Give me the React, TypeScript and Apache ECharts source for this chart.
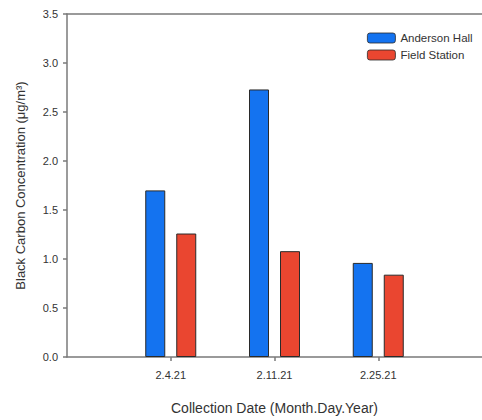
import React, { useEffect, useRef } from "react";
import * as echarts from "echarts";

const categories = ["2.4.21", "2.11.21", "2.25.21"];
const andersonHall = [1.7, 2.73, 0.96];
const fieldStation = [1.26, 1.08, 0.84];
const yTicks = [0, 0.5, 1.0, 1.5, 2.0, 2.5, 3.0, 3.5];

const FONT = "'Liberation Sans', Arial, sans-serif";

export default function App() {
  const ref = useRef<HTMLDivElement>(null);
  useEffect(() => {
    if (!ref.current) return;
    const chart = echarts.init(ref.current, null, { renderer: "svg" });
    const positions = categories.map((_, i) => i + 1);
    const axisLineStyle = { color: "#7a7a7a", width: 1.5 };
    chart.setOption({
      animation: false,
      backgroundColor: "#ffffff",
      textStyle: { fontFamily: FONT },
      grid: { left: 67, top: 14, bottom: 63, right: -7, containLabel: false },
      legend: {
        orient: "vertical",
        left: 367,
        top: 32,
        padding: 0,
        itemWidth: 28,
        itemHeight: 10,
        itemGap: 5,
        itemStyle: { borderWidth: 0.8 },
        textStyle: { fontSize: 11.5, color: "#333", fontFamily: FONT },
        data: ["Anderson Hall", "Field Station"],
      },
      xAxis: [
        {
          type: "value",
          min: 0,
          max: 4,
          interval: 1,
          name: "Collection Date (Month.Day.Year)",
          nameLocation: "middle",
          nameGap: 44,
          nameTextStyle: { fontSize: 14, color: "#333", fontFamily: FONT },
          axisLine: { show: true, onZero: false, lineStyle: axisLineStyle },
          axisTick: { show: true, length: 4, customValues: positions, lineStyle: axisLineStyle },
          axisLabel: {
            customValues: positions,
            formatter: (v: number) => categories[Math.round(v) - 1] ?? "",
            fontSize: 11,
            color: "#333",
            margin: 12,
            fontFamily: FONT,
          },
          splitLine: { show: false },
        },
        {
          type: "value",
          position: "top",
          min: 0,
          max: 4,
          axisLine: { show: true, onZero: false, lineStyle: axisLineStyle },
          axisTick: { show: false },
          axisLabel: { show: false },
          splitLine: { show: false },
        },
      ],
      yAxis: {
        type: "value",
        min: yTicks[0],
        max: yTicks[yTicks.length - 1],
        interval: 0.5,
        name: "Black Carbon Concentration (μg/m³)",
        nameLocation: "middle",
        nameGap: 40,
        nameRotate: 90,
        nameTextStyle: { fontSize: 13, color: "#333", fontFamily: FONT },
        axisLine: { show: true, lineStyle: axisLineStyle },
        axisTick: { show: true, length: 4, lineStyle: axisLineStyle },
        axisLabel: {
          formatter: (v: number) => v.toFixed(1),
          fontSize: 11,
          color: "#333",
          margin: 9,
          fontFamily: FONT,
        },
        splitLine: { show: false },
      },
      series: [
        {
          name: "Anderson Hall",
          type: "bar",
          xAxisIndex: 0,
          barWidth: 20,
          barGap: "55%",
          itemStyle: { color: "#1473f0", borderColor: "#2a2a2a", borderWidth: 1 },
          data: andersonHall.map((v, i) => [positions[i], v]),
        },
        {
          name: "Field Station",
          type: "bar",
          xAxisIndex: 0,
          barWidth: 20,
          barGap: "55%",
          itemStyle: { color: "#ea4630", borderColor: "#2a2a2a", borderWidth: 1 },
          data: fieldStation.map((v, i) => [positions[i], v]),
        },
      ],
    });
    return () => chart.dispose();
  }, []);
  return (
    <div
      ref={ref}
      style={{ position: "fixed", left: 0, top: 0, width: 482, height: 420 }}
    />
  );
}
